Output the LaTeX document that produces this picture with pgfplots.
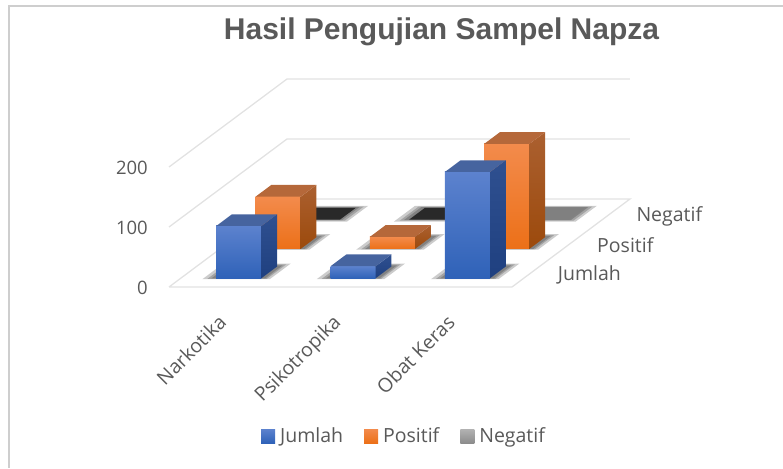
\documentclass[border=0pt]{standalone}
\usepackage{pgfplots}
\pgfplotsset{compat=1.18}
\usepackage{fontspec}
\setmainfont{Open Sans}
\newfontfamily\titlefont{Liberation Sans}
\definecolor{txt}{HTML}{595959}
\definecolor{gridc}{HTML}{E2E2E2}
% blue
\definecolor{bT}{HTML}{5C82CE}\definecolor{bB}{HTML}{2F62B8}\definecolor{bTop}{HTML}{46649F}\definecolor{bS1}{HTML}{2F5090}\definecolor{bS2}{HTML}{1F4080}
% orange
\definecolor{oT}{HTML}{F38B4C}\definecolor{oB}{HTML}{EC7018}\definecolor{oTop}{HTML}{B5683A}\definecolor{oS1}{HTML}{AB6030}\definecolor{oS2}{HTML}{9C4A0C}
\pgfplotsset{
  shadowface/.style={draw=none,fill=black,fill opacity=#1,forget plot},
}
% x0 x1 y0 y1 height, colour prefix
\newcommand{\tdbar}[6]{%
  \addplot3[draw=none,shade,top color=#6T,bottom color=#6B,forget plot] coordinates {(#1,#3,0) (#2,#3,0) (#2,#3,#5) (#1,#3,#5)} --cycle;
  \addplot3[draw=none,shade,top color=#6S1,bottom color=#6S2,forget plot] coordinates {(#2,#3,0) (#2,#4,0) (#2,#4,#5) (#2,#3,#5)} --cycle;
  \addplot3[draw=none,fill=#6Top,forget plot] coordinates {(#1,#3,#5) (#2,#3,#5) (#2,#4,#5) (#1,#4,#5)} --cycle;
}
% x0 x1 y0 y1 : soft floor shadow, laid down in layers
\newcommand{\tdshadow}[4]{%
  \addplot3[shadowface=0.2] coordinates {(#1,#3,0) (#2,#3,0) (#2,#4,0) (#1,#4,0)} --cycle;
}
\begin{document}
\begin{tikzpicture}[x=1pt,y=1pt]
\useasboundingbox (0,0) rectangle (783,468);
\draw[line width=2pt,color=gridc!90!black!95] (783,462) -- (9,462) -- (9,0);
\node[font=\titlefont\bfseries\fontsize{30}{34}\selectfont,text=txt] at (441.5,436) {Hasil Pengujian Sampel Napza};
\begin{axis}[
  at={(169pt,181pt)},anchor=origin,
  x={(114.33pt,0pt)},y={(39.33pt,29.33pt)},z={(0pt,0.6pt)},
  xmin=0,xmax=3,ymin=0,ymax=3,zmin=0,zmax=200,
  clip=false,
  axis line style={draw=none},
  tick style={draw=none},
  xtick={0.5,1.5,2.5},xticklabels={Narkotika,Psikotropika,Obat Keras},
  ytick={0.5,1.5,2.5},yticklabels={Jumlah,Positif,Negatif},
  ztick={0,100,200},
  tick label style={font=\fontsize{18.5}{20}\selectfont,text=txt},
  x tick label style={rotate=45,anchor=north east,inner sep=0pt,xshift=-25pt,yshift=-12pt,font=\fontsize{19.5}{20}\selectfont,text=txt},
  y tick label style={anchor=west,inner sep=0pt,xshift=26pt,yshift=-2.5pt,font=\fontsize{19.5}{20}\selectfont,text=txt},
  z tick label style={anchor=east,inner sep=0pt,xshift=-21pt,yshift=-1pt,font=\fontsize{18.5}{20}\selectfont,text=txt},
  /pgf/number format/assume math mode=true,
  legend columns=3,
  legend style={at={(235pt,-149pt)},anchor=center,draw=none,fill=none,
    font=\fontsize{19.5}{20}\selectfont,text=txt,inner sep=0pt,
    /tikz/every odd column/.style={column sep=3pt},
    /tikz/every even column/.style={column sep=19pt}},
  legend image code/.code={\path[#1,draw=none] (0pt,-7pt) rectangle (14pt,7pt);},
]
\addlegendimage{shade,top color=bT,bottom color=bB}
\addlegendentry{Jumlah}
\addlegendimage{shade,top color=oT,bottom color=oB}
\addlegendentry{Positif}
\addlegendimage{shade,top color=black!30,bottom color=black!45}
\addlegendentry{Negatif}
% walls and floor
\addplot3[gridc,line width=1.3pt,forget plot] coordinates {(0,0,0) (0,3,0) (3,3,0) (3,0,0) (0,0,0)};
\addplot3[gridc,line width=1.3pt,forget plot] coordinates {(0,0,100) (0,3,100) (3,3,100)};
\addplot3[gridc,line width=1.3pt,forget plot] coordinates {(0,0,200) (0,3,200) (3,3,200)};
% Negatif row (flat)
\tdshadow{0.20}{0.79}{2.23}{2.77}\tdshadow{1.20}{1.79}{2.23}{2.77}\tdshadow{2.20}{2.79}{2.23}{2.77}
\tdshadow{0.24}{0.76}{2.26}{2.74}\tdshadow{1.24}{1.76}{2.26}{2.74}\tdshadow{2.24}{2.76}{2.26}{2.74}
\tdshadow{0.27}{0.73}{2.28}{2.72}\tdshadow{1.27}{1.73}{2.28}{2.72}\tdshadow{2.27}{2.73}{2.28}{2.72}
\addplot3[draw=none,fill=black!84,forget plot] coordinates {(0.31,2.3,0) (0.705,2.3,0) (0.705,2.7,0) (0.31,2.7,0)} --cycle;
\addplot3[draw=none,fill=black!84,forget plot] coordinates {(1.31,2.3,0) (1.705,2.3,0) (1.705,2.7,0) (1.31,2.7,0)} --cycle;
\addplot3[draw=none,fill=black!50,forget plot] coordinates {(2.31,2.3,0) (2.705,2.3,0) (2.705,2.7,0) (2.31,2.7,0)} --cycle;
% Positif row
\tdshadow{0.20}{0.79}{1.27}{1.80}\tdshadow{1.20}{1.79}{1.27}{1.80}\tdshadow{2.20}{2.79}{1.27}{1.80}
\tdshadow{0.24}{0.76}{1.28}{1.77}\tdshadow{1.24}{1.76}{1.28}{1.77}\tdshadow{2.24}{2.76}{1.28}{1.77}
\tdshadow{0.27}{0.74}{1.29}{1.74}\tdshadow{1.27}{1.74}{1.29}{1.74}\tdshadow{2.27}{2.74}{1.29}{1.74}
\tdbar{0.31}{0.705}{1.3}{1.7}{87}{o}
\tdbar{1.31}{1.705}{1.3}{1.7}{20}{o}
\tdbar{2.31}{2.705}{1.3}{1.7}{175}{o}
% Jumlah row
\tdshadow{0.20}{0.79}{0.27}{0.80}\tdshadow{1.20}{1.79}{0.27}{0.80}\tdshadow{2.20}{2.79}{0.27}{0.80}
\tdshadow{0.24}{0.76}{0.28}{0.77}\tdshadow{1.24}{1.76}{0.28}{0.77}\tdshadow{2.24}{2.76}{0.28}{0.77}
\tdshadow{0.27}{0.74}{0.29}{0.74}\tdshadow{1.27}{1.74}{0.29}{0.74}\tdshadow{2.27}{2.74}{0.29}{0.74}
\tdbar{0.31}{0.705}{0.3}{0.7}{87}{b}
\tdbar{1.31}{1.705}{0.3}{0.7}{20}{b}
\tdbar{2.31}{2.705}{0.3}{0.7}{177}{b}
\end{axis}
\end{tikzpicture}
\end{document}
